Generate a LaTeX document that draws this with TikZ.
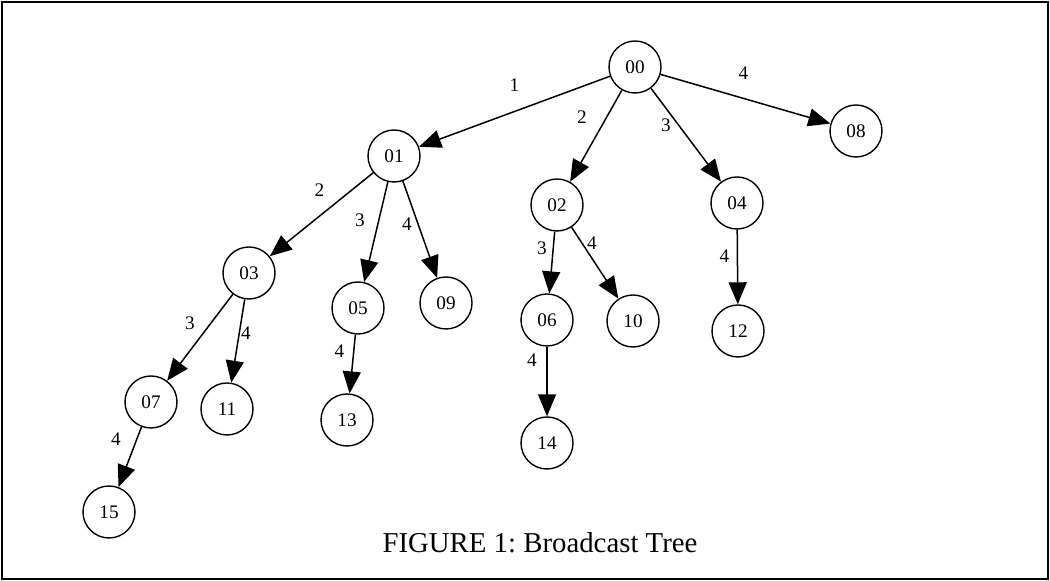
\documentclass[tikz,border=0pt]{standalone}
\usepackage{fontspec}
\setmainfont{Liberation Serif}
\usetikzlibrary{arrows.meta}
\frenchspacing
\begin{document}
\begin{tikzpicture}[x=0.5pt, y=-0.5pt,
		vertex/.style={draw, circle, line width=0.7pt, minimum size=26pt, inner sep=0pt, font=\fontsize{9.6}{11}\selectfont},
		link/.style={-{Triangle[length=11pt, width=9pt]}, line width=0.75pt},
		weight/.style={inner sep=0pt, font=\fontsize{9.6}{11}\selectfont}]
	\useasboundingbox (0, 0) rectangle (1050, 581);
	\draw[line width=1pt] (2, 2) rectangle (1048, 579);
	\node[vertex] (n00) at (635, 67) {00};
	\node[vertex] (n01) at (394, 156) {01};
	\node[vertex] (n08) at (856, 131) {08};
	\node[vertex] (n02) at (557, 205) {02};
	\node[vertex] (n04) at (737, 203) {04};
	\node[vertex] (n03) at (249, 273) {03};
	\node[vertex] (n05) at (358, 308) {05};
	\node[vertex] (n09) at (446, 303) {09};
	\node[vertex] (n06) at (547, 320) {06};
	\node[vertex] (n10) at (633, 321) {10};
	\node[vertex] (n12) at (738, 331) {12};
	\node[vertex] (n07) at (151, 402) {07};
	\node[vertex] (n11) at (227, 409) {11};
	\node[vertex] (n13) at (347, 420) {13};
	\node[vertex] (n14) at (547, 443) {14};
	\node[vertex] (n15) at (109, 512) {15};
	\draw[link] (n00) -- node[weight, shift={(0, -26)}] {1} (n01);
	\draw[link] (n00) -- node[weight, shift={(-14, -19)}] {2} (n02);
	\draw[link] (n00) -- node[weight, shift={(-20, -10)}] {3} (n04);
	\draw[link] (n00) -- node[weight, shift={(-2, -26)}] {4} (n08);
	\draw[link] (n01) -- node[weight, shift={(-2, -24)}] {2} (n03);
	\draw[link] (n01) -- node[weight, shift={(-16, -12)}] {3} (n05);
	\draw[link] (n01) -- node[weight, shift={(-13, -5)}] {4} (n09);
	\draw[link] (n02) -- node[weight, shift={(-10, -14)}] {3} (n06);
	\draw[link] (n02) -- node[weight, shift={(-3, -20)}] {4} (n10);
	\draw[link] (n04) -- node[weight, shift={(-13, -11)}] {4} (n12);
	\draw[link] (n03) -- node[weight, shift={(-10, -14)}] {3} (n07);
	\draw[link] (n03) -- node[weight, shift={(8, -8)}] {4} (n11);
	\draw[link] (n05) -- node[weight, shift={(-13, -13)}] {4} (n13);
	\draw[link] (n06) -- node[weight, shift={(-15, -21)}] {4} (n14);
	\draw[link] (n07) -- node[weight, shift={(-14, -18)}] {4} (n15);
	\node[font=\fontsize{14.4}{17}\selectfont] (caption) at (540, 543) {FIGURE 1: Broadcast Tree};
\end{tikzpicture}
\end{document}
